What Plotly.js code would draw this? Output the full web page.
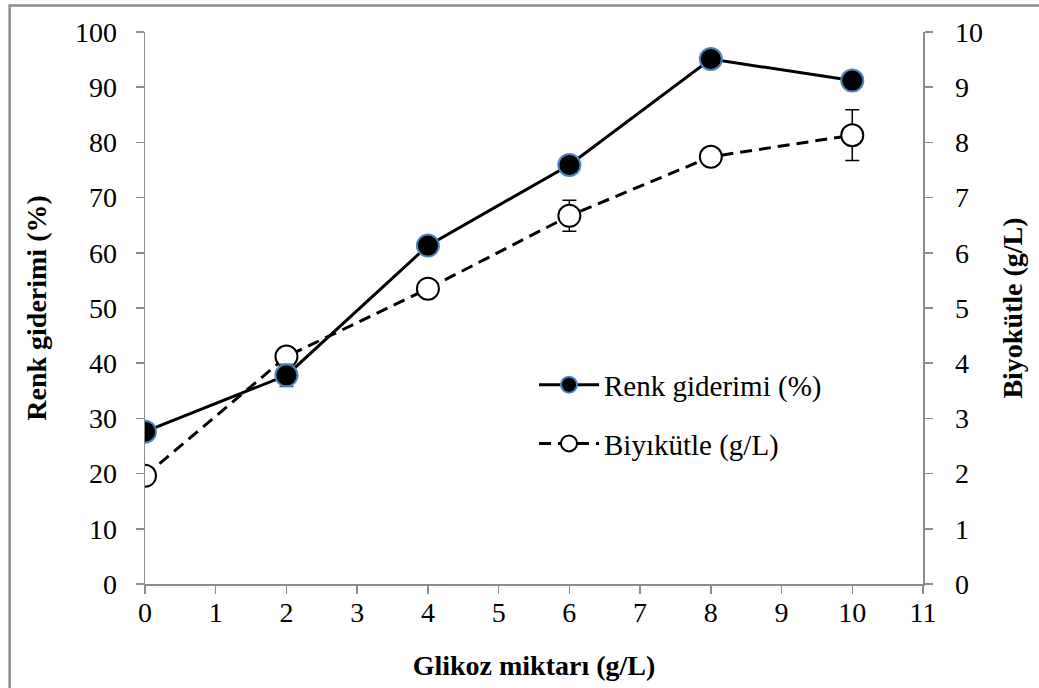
<!DOCTYPE html>
<html>
<head>
<meta charset="utf-8">
<script src="https://cdn.plot.ly/plotly-3.0.1.min.js"></script>
<style>html,body{margin:0;padding:0;background:#fff;}#chart{width:1039px;height:688px;}</style>
</head>
<body>
<div id="chart"></div>
<script>
const glikoz = [0, 2, 4, 6, 8, 10];
const renkGiderimi = [27.6, 37.8, 61.3, 75.9, 95.1, 91.2];
const renkErr = [0.8, 2.0, 1.0, 1.0, 0.8, 0.8];
const biyokutle = [1.96, 4.12, 5.35, 6.67, 7.74, 8.13];
const bioErr = [0.1, 0.15, 0.15, 0.28, 0.12, 0.46];
const xTicks = [0,1,2,3,4,5,6,7,8,9,10,11];

const serif = 'Liberation Serif';

const bio = {
  x: glikoz, y: biyokutle, yaxis: 'y', name: 'Biyıkütle (g/L)',
  type: 'scatter', mode: 'lines+markers', legendrank: 2, legendgroup: 'b',
  line: {color: '#000', width: 3, dash: '12px,7px'},
  marker: {symbol: 'circle', size: 22, color: '#fff', line: {color: '#000', width: 2}},
  error_y: {type: 'data', array: bioErr, visible: true, color: '#000', thickness: 1.5, width: 7}
};
const renk = {
  x: glikoz, y: renkGiderimi, yaxis: 'y2', name: 'Renk giderimi (%)',
  type: 'scatter', mode: 'lines+markers', legendrank: 1, legendgroup: 'a',
  line: {color: '#000', width: 3},
  marker: {symbol: 'circle', size: 22, color: '#000', line: {color: '#4f81bd', width: 2}},
  error_y: {type: 'data', array: renkErr, visible: true, color: '#555', thickness: 1.5, width: 7}
};

const axisCommon = {
  showgrid: false, zeroline: false, showline: true, linecolor: '#8c8c8c', linewidth: 1.5,
  ticks: 'outside', ticklen: 8, tickcolor: '#8c8c8c', tickwidth: 1.5,
  tickfont: {family: serif, size: 28, color: '#000'}
};

const layout = {
  width: 1039, height: 688,
  font: {family: serif, color: '#000'},
  margin: {l: 144.5, r: 116, t: 32, b: 104},
  paper_bgcolor: '#fff', plot_bgcolor: '#fff',
  showlegend: true,
  legend: {x: 0.5, y: 0.407, xanchor: 'left', yanchor: 'top', bgcolor: 'rgba(0,0,0,0)',
    font: {family: serif, size: 29, color: '#000'}, itemwidth: 60, tracegroupgap: 18,
    traceorder: 'grouped'},
  xaxis: Object.assign({}, axisCommon, {
    range: [0, 11], tickvals: xTicks, ticktext: xTicks.map(String), ticklabelstandoff: -5,
    title: {text: '<b>Glikoz miktarı (g/L)</b>', font: {family: serif, size: 28, color: '#000'}, standoff: 28}
  }),
  yaxis: Object.assign({}, axisCommon, {
    range: [0, 10], dtick: 1, side: 'right', ticklabelstandoff: 17,
    title: {text: '<b>Biyokütle (g/L)</b>', font: {family: serif, size: 28, color: '#000'}, standoff: 20}
  }),
  yaxis2: Object.assign({}, axisCommon, {
    range: [0, 100], dtick: 10, side: 'left', overlaying: 'y', ticklabelstandoff: 13,
    title: {text: '<b>Renk giderimi (%)</b>', font: {family: serif, size: 28, color: '#000'}, standoff: 20}
  }),
  shapes: [{type: 'rect', xref: 'paper', yref: 'paper', x0: -0.174, x1: 1.3, y0: -0.4, y1: 1.048,
    line: {color: '#8c8c8c', width: 2.5}, fillcolor: 'rgba(0,0,0,0)', layer: 'below'}]
};

Plotly.newPlot('chart', [bio, renk], layout, {displayModeBar: false, staticPlot: true});
</script>
</body>
</html>
